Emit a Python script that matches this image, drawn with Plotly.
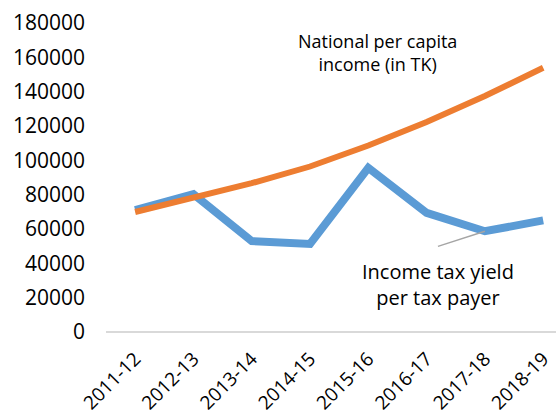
import plotly.graph_objects as go

years = ["2011-12", "2012-13", "2013-14", "2014-15",
         "2015-16", "2016-17", "2017-18", "2018-19"]
per_capita_income = [69900, 78400, 86700, 96400, 108600, 122300, 137500, 153900]
tax_yield_per_payer = [71000, 80300, 53000, 51300, 95600, 69400, 58700, 65000]
y_ticks = [0, 20000, 40000, 60000, 80000, 100000, 120000, 140000, 160000, 180000]

x_idx = list(range(len(years)))
FONT = "Open Sans, Noto Sans, sans-serif"

fig = go.Figure()
fig.add_trace(go.Scatter(
    x=x_idx, y=tax_yield_per_payer, mode="lines",
    line=dict(color="#5B9BD5", width=8), name="Income tax yield per tax payer",
))
fig.add_trace(go.Scatter(
    x=x_idx, y=per_capita_income, mode="lines",
    line=dict(color="#ED7D31", width=6), name="National per capita income (in TK)",
))

# series labels
fig.add_annotation(x=4.165, y=163000, xref="x", yref="y",
                   text="National per capita<br>income (in TK)", showarrow=False,
                   xanchor="center", yanchor="middle", align="center",
                   font=dict(family=FONT, size=18, color="#000000"))
fig.add_annotation(x=5.19, y=27500, xref="x", yref="y",
                   text="Income tax yield<br>per tax payer", showarrow=False,
                   xanchor="center", yanchor="middle", align="center",
                   font=dict(family=FONT, size=20, color="#000000"))

# leader line from the lower label to the 2017-18 point
fig.add_shape(type="line", xref="x", yref="y",
              x0=5.195, y0=49900, x1=6, y1=tax_yield_per_payer[6],
              line=dict(color="#A5A5A5", width=1.5))

fig.update_layout(
    width=559, height=420,
    margin=dict(l=106, r=3, t=23, b=88),
    paper_bgcolor="white", plot_bgcolor="white",
    showlegend=False,
    font=dict(family=FONT, color="#000000"),
)
fig.update_xaxes(
    range=[-0.5, 7.22], tickmode="array", tickvals=x_idx, ticktext=years,
    tickangle=-45, tickfont=dict(family=FONT, size=19, color="#000000"),
    showgrid=False, zeroline=False, showline=False, ticks="",
    ticklabelstandoff=11, automargin=False,
)
fig.update_yaxes(
    range=[0, 180000], tickmode="array", tickvals=y_ticks,
    ticktext=[str(v) for v in y_ticks],
    tickfont=dict(family=FONT, size=21, color="#000000"),
    showgrid=False, zeroline=True, zerolinecolor="#D9D9D9", zerolinewidth=1.5,
    showline=False, ticks="", ticklabelstandoff=20, automargin=False,
)

fig.write_html("out.html")
